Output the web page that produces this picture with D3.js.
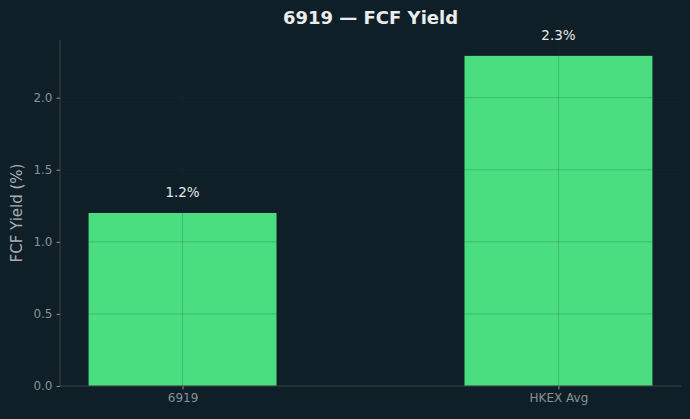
<!DOCTYPE html>
<html>
<head>
<meta charset="utf-8">
<script src="https://cdn.jsdelivr.net/npm/d3@7"></script>
<style>
  body { margin: 0; background: #0f1f27; }
  svg { display: block; font-family: "DejaVu Sans", sans-serif; }
</style>
</head>
<body>
<div id="chart"></div>
<script>
// data
var categories = ["6919", "HKEX Avg"];
var yieldValues = [1.2, 2.29];
var valueLabels = ["1.2%", "2.3%"];
var yTicks = [0.0, 0.5, 1.0, 1.5, 2.0];

var W = 690, H = 419;
var margin = {top: 40, right: 9, bottom: 33, left: 60};
var width = W - margin.left - margin.right;
var height = H - margin.top - margin.bottom;

var svg = d3.select("#chart").append("svg")
    .attr("width", W)
    .attr("height", H);

svg.append("rect").attr("width", W).attr("height", H).attr("fill", "#0f1f27");

var g = svg.append("g")
    .attr("transform", "translate(" + margin.left + "," + margin.top + ")");

var x = d3.scalePoint()
    .domain(categories)
    .range([0, width])
    .padding(0.326);
var barW = x.step() * 0.5;

var y = d3.scaleLinear()
    .domain([0, d3.max(yieldValues) * 1.048])
    .range([height, 0]);

// bars
g.selectAll(".bar")
    .data(yieldValues)
    .enter()
    .append("rect")
    .attr("class", "bar")
    .attr("x", function(d, i) { return x(categories[i]) - barW / 2; })
    .attr("y", function(d) { return y(d); })
    .attr("width", barW)
    .attr("height", function(d) { return y(0) - y(d); })
    .attr("fill", "#4ade80");

// grid on top, very faint
var gridColor = "#1e3a34", gridAlpha = 0.28;
g.selectAll(".hgrid")
    .data(yTicks)
    .enter()
    .append("line")
    .attr("x1", 0).attr("x2", width)
    .attr("y1", function(d) { return y(d); })
    .attr("y2", function(d) { return y(d); })
    .attr("stroke", gridColor)
    .attr("stroke-opacity", gridAlpha)
    .attr("stroke-width", 0.8);

g.selectAll(".vgrid")
    .data(categories)
    .enter()
    .append("line")
    .attr("y1", 0).attr("y2", height)
    .attr("x1", function(d) { return x(d); })
    .attr("x2", function(d) { return x(d); })
    .attr("stroke", gridColor)
    .attr("stroke-opacity", gridAlpha)
    .attr("stroke-width", 0.8);

// value labels
g.selectAll(".vlabel")
    .data(yieldValues)
    .enter()
    .append("text")
    .attr("x", function(d, i) { return x(categories[i]); })
    .attr("y", function(d) { return y(d) - 16; })
    .attr("text-anchor", "middle")
    .attr("font-size", "13.5px")
    .attr("fill", "#e8e8e8")
    .text(function(d, i) { return valueLabels[i]; });

// axes
var yAxis = g.append("g")
    .call(d3.axisLeft(y).tickValues(yTicks).tickFormat(d3.format(".1f")).tickSize(3.5).tickPadding(4));
var xAxis = g.append("g")
    .attr("transform", "translate(0," + height + ")")
    .call(d3.axisBottom(x).tickSize(3.5).tickPadding(4));

[yAxis, xAxis].forEach(function(a) {
  a.select(".domain").attr("stroke", "#3d4347").attr("stroke-width", 1);
  a.selectAll(".tick line").attr("stroke", "#8a8f94");
  a.selectAll(".tick text").attr("fill", "#8a9096").attr("font-size", "12px")
    .attr("font-family", "DejaVu Sans, sans-serif");
});
yAxis.select(".domain").attr("d", "M0," + height + "V0");
xAxis.select(".domain").attr("d", "M0,0H" + width);

// y label
svg.append("text")
    .attr("transform", "translate(22," + (margin.top + height / 2) + ") rotate(-90)")
    .attr("text-anchor", "middle")
    .attr("font-size", "15px")
    .attr("fill", "#a9adb1")
    .text("FCF Yield (%)");

// title
svg.append("text")
    .attr("x", margin.left + width / 2)
    .attr("y", 24)
    .attr("text-anchor", "middle")
    .attr("font-size", "18px")
    .attr("font-weight", "bold")
    .attr("fill", "#ececec")
    .text("6919 \u2014 FCF Yield");
</script>
</body>
</html>
